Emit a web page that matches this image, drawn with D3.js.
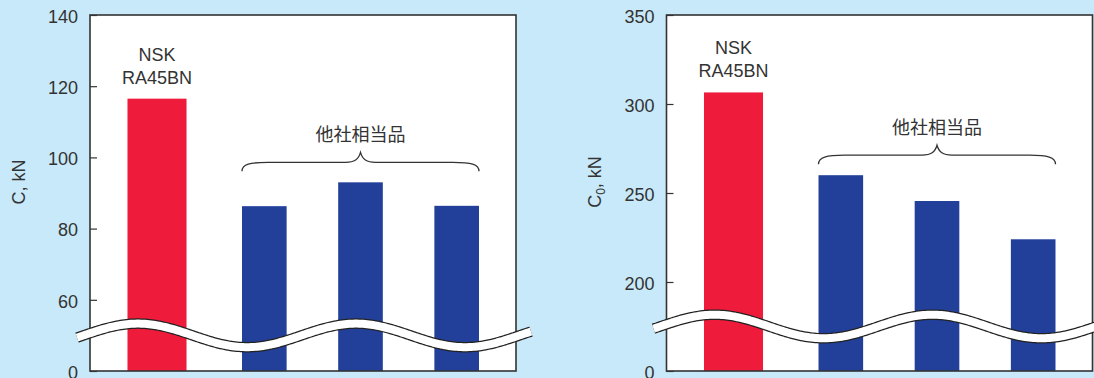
<!DOCTYPE html>
<html>
<head>
<meta charset="utf-8">
<script src="https://cdn.jsdelivr.net/npm/d3@7"></script>
<style>
  html, body { margin: 0; padding: 0; background: #c8e9f9; }
  svg { display: block; }
  text { font-family: "Liberation Sans", Arial, Helvetica, sans-serif; fill: #333; }
  .cjk { font-family: "Noto Sans CJK JP", "Noto Sans CJK SC", sans-serif; }
</style>
</head>
<body>
<svg id="chart" width="1094" height="378"></svg>
<script>
// Bearing label and the group of equivalent competitor products
const nskName = ["NSK", "RA45BN"];
const groupName = "他社相当品";
const rivals = ["A", "B", "C"];

// Dynamic load rating C, kN
const dynamicNsk = 116.5;
const dynamicRivals = [86.3, 93.0, 86.4];
const dynamicTicks = [60, 80, 100, 120, 140];
const dynamicFloor = 40;   // value sitting at the axis break, labelled "0"

// Static load rating C0, kN
const staticNsk = 306.5;
const staticRivals = [260, 245.5, 224];
const staticTicks = [200, 250, 300, 350];
const staticFloor = 150;   // value sitting at the axis break, labelled "0"

const RED = "#ee1b3b";
const BLUE = "#22409a";
const INK = "#333";

const svg = d3.select("#chart");
svg.append("rect").attr("width", 1094).attr("height", 378).attr("fill", "#c8e9f9");

function panel(opt) {
  const top = 15, bottom = 371, width = 426;
  const y = d3.scaleLinear()
    .domain([opt.floor, d3.max(opt.ticks)])
    .range([bottom, top]);

  const xNsk = d3.scaleBand()
    .domain([nskName.join(" ")])
    .range([0, 134])
    .paddingOuter(0.635);
  const xRival = d3.scaleBand()
    .domain(rivals)
    .range([152, 389])
    .paddingInner(0.536)
    .paddingOuter(0);

  const g = svg.append("g").attr("transform", `translate(${opt.left},0)`);

  // plot background
  g.append("rect")
    .attr("x", 0).attr("y", top)
    .attr("width", width).attr("height", bottom - top)
    .attr("fill", "#fff");

  // NSK bar
  g.append("rect")
    .attr("x", xNsk(nskName.join(" ")))
    .attr("y", y(opt.nsk))
    .attr("width", xNsk.bandwidth())
    .attr("height", y(opt.floor) - y(opt.nsk))
    .attr("fill", RED);

  // competitor bars
  g.selectAll("rect.rival")
    .data(opt.rivalValues)
    .join("rect")
    .attr("class", "rival")
    .attr("x", (d, i) => xRival(rivals[i]))
    .attr("y", d => y(d))
    .attr("width", xRival.bandwidth())
    .attr("height", d => y(opt.floor) - y(d))
    .attr("fill", BLUE);

  // frame
  g.append("rect")
    .attr("x", 0).attr("y", top)
    .attr("width", width).attr("height", bottom - top)
    .attr("fill", "none")
    .attr("stroke", INK)
    .attr("stroke-width", 1.6);

  // y axis with inward ticks
  const axis = g.append("g")
    .call(d3.axisLeft(y)
      .tickValues([opt.floor, ...opt.ticks])
      .tickSize(-7)
      .tickPadding(12)
      .tickFormat(d => d === opt.floor ? "0" : d));
  axis.select(".domain").remove();
  axis.selectAll(".tick line").attr("stroke", INK).attr("stroke-width", 1.2);
  axis.selectAll(".tick text")
    .attr("font-size", 18)
    .attr("dy", "0.4em")
    .attr("fill", INK)
    .style("font-family", "'Liberation Sans', Arial, sans-serif");

  // axis title
  const title = g.append("text")
    .attr("transform", "translate(-65.5,182) rotate(-90)")
    .attr("text-anchor", "middle")
    .attr("font-size", 18);
  title.append("tspan").text("C");
  if (opt.sub) {
    title.append("tspan").text(opt.sub)
      .attr("font-size", 12)
      .attr("dy", 4);
    title.append("tspan").text(", kN").attr("dy", -4);
  } else {
    title.append("tspan").text(", kN");
  }

  // NSK label above the red bar
  const cx = xNsk(nskName.join(" ")) + xNsk.bandwidth() / 2;
  const lbl = g.append("text")
    .attr("text-anchor", "middle")
    .attr("font-size", 18);
  nskName.forEach((line, i) => {
    lbl.append("tspan")
      .attr("x", cx)
      .attr("y", y(opt.nsk) - 15 - (nskName.length - 1 - i) * 23)
      .text(line);
  });

  // brace over the competitor bars
  const x0 = xRival.range()[0] + xRival(rivals[0]) - xRival.range()[0];
  const x1 = xRival(rivals[rivals.length - 1]) + xRival.bandwidth();
  const mid = (x0 + x1) / 2;
  const endY = y(d3.max(opt.rivalValues)) - 11;
  const lineY = endY - 9;
  const tipY = lineY - 10;
  const p = d3.path();
  p.moveTo(x0, endY);
  p.bezierCurveTo(x0, lineY + 2, x0 + 8, lineY, x0 + 26, lineY);
  p.lineTo(mid - 15, lineY);
  p.bezierCurveTo(mid - 6, lineY, mid - 2, lineY - 3, mid, tipY);
  p.bezierCurveTo(mid + 2, lineY - 3, mid + 6, lineY, mid + 15, lineY);
  p.lineTo(x1 - 26, lineY);
  p.bezierCurveTo(x1 - 8, lineY, x1, lineY + 2, x1, endY);
  g.append("path")
    .attr("d", p.toString())
    .attr("fill", "none")
    .attr("stroke", INK)
    .attr("stroke-width", 1.3);

  g.append("text")
    .attr("class", "cjk")
    .attr("x", mid)
    .attr("y", tipY - 11)
    .attr("text-anchor", "middle")
    .attr("font-size", 18)
    .style("font-family", "'Noto Sans CJK JP', 'Noto Sans CJK SC', sans-serif")
    .text(groupName);

  // axis-break wave between "0" and the lowest tick
  const waveY = (y(opt.floor) + y(d3.min(opt.ticks))) / 2;
  const pts = d3.range(-13, width + 16, 2)
    .map(x => [x, waveY - 11.8 * Math.cos(2 * Math.PI * (x - 48) / 218)]);
  const wave = d3.line().curve(d3.curveBasis)(pts);
  g.append("path").attr("d", wave)
    .attr("fill", "none").attr("stroke", "#222").attr("stroke-width", 10.5);
  g.append("path").attr("d", wave)
    .attr("fill", "none").attr("stroke", "#fff").attr("stroke-width", 8);
}

panel({
  left: 90,
  nsk: dynamicNsk,
  rivalValues: dynamicRivals,
  ticks: dynamicTicks,
  floor: dynamicFloor,
  sub: null
});

panel({
  left: 666.5,
  nsk: staticNsk,
  rivalValues: staticRivals,
  ticks: staticTicks,
  floor: staticFloor,
  sub: "0"
});
</script>
</body>
</html>
